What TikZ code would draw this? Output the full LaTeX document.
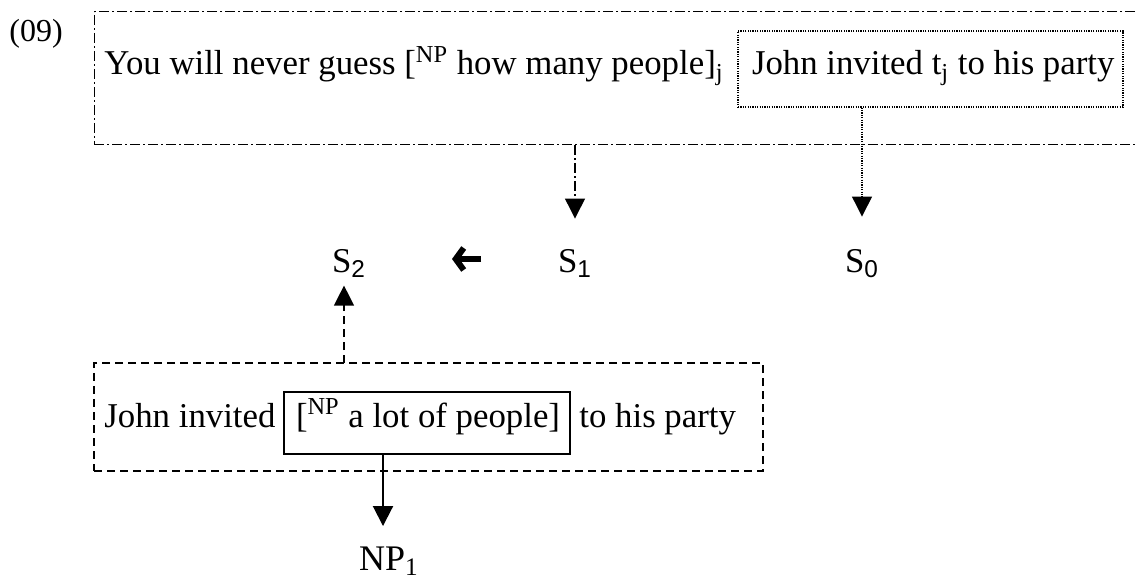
\documentclass[tikz,border=0pt]{standalone}
\usepackage{fontspec}
\setmainfont{Liberation Serif}
\newfontfamily\helvfnt{Liberation Sans}
\newfontfamily\timesfnt{Liberation Serif}
\usetikzlibrary{arrows.meta}
\begin{document}
\begin{tikzpicture}[x=0.5pt,y=-0.5pt,
  every node/.style={inner sep=0pt, font=\fontsize{17.4}{20}\selectfont},
  dashdotbox/.style={draw, line width=0.5pt, dash pattern=on 5pt off 1.5pt on 1pt off 1.5pt},
  dotbox/.style={draw, line width=0.6pt, dash pattern=on 0.6pt off 0.6pt},
  dashbox/.style={draw, line width=0.6pt, dash pattern=on 4pt off 2.5pt},
  solidbox/.style={draw, line width=1pt},
  tip/.style={-{Triangle[width=10pt,length=10pt]}},
  dotarrow/.style={tip, line width=0.6pt, dash pattern=on 0.6pt off 0.6pt},
  dashdotarrow/.style={tip, line width=0.6pt, dash pattern=on 5pt off 1.5pt on 1pt off 1.5pt},
  dasharrow/.style={tip, line width=0.6pt, dash pattern=on 4pt off 2.5pt},
  solidarrow/.style={tip, line width=1pt},
  boldarrow/.style={line width=3pt, -{Straight Barb[length=4pt,width=11pt,line width=3pt]}}
]
\useasboundingbox (0,0) rectangle (1138,582);

\node[anchor=base west, font=\fontsize{16}{19}\selectfont] (ex) at (9,42) {(09)};

% top frame
\node[dashdotbox, minimum width=533pt, minimum height=66.5pt] (outer) at (627,78.5) {};
\node[anchor=base west] (toptext) at (104,75) {You will never guess [\textsuperscript{NP} how many people]\textsubscript{j}};
\node[dotbox, anchor=base, text height=22pt, text depth=16pt] (emb) at (930.5,75)
  {\makebox[192.5pt][l]{\hspace{7pt}John invited t\textsubscript{j} to his party}};

% S row
\node[anchor=base] (S0) at (862,272) {S\textsubscript{\helvfnt 0}};
\node[anchor=base] (S1) at (575,272) {S\textsubscript{\helvfnt 1}};
\node[anchor=base] (S2) at (349,272) {S\textsubscript{\helvfnt 2}};

\draw[dotarrow, shorten >=16pt] (emb.south -| S0) -- (S0.north);
\draw[dashdotarrow, shorten >=15pt] (outer.south -| S1) -- (S1.north);

\coordinate (barbA) at (481,259);
\coordinate (barbB) at (452,259);
\draw[boldarrow] (barbA) -- (barbB);

% bottom frame
\node[dashbox, minimum width=334.5pt, minimum height=54pt] (lower) at (428.5,417) {};
\node[anchor=base west] (jinv) at (104,427) {John invited};
\node[solidbox, anchor=base, text height=17.5pt, text depth=13.5pt] (np) at (427,427)
  {\makebox[143pt][l]{\hspace{6pt}[\textsuperscript{NP} a lot of people]}};
\node[anchor=base west] (party) at (579,427) {to his party};

\coordinate (s2foot) at (344,363);
\draw[dasharrow, shorten >=4pt] (s2foot) -- (s2foot |- S2.south);

\node[anchor=base, font=\fontsize{18}{20}\timesfnt] (NP1) at (389,570) {NP\textsubscript{1}};
\coordinate (npfoot) at (383,454);
\draw[solidarrow, shorten >=10pt] (npfoot) -- (npfoot |- NP1.north);
\end{tikzpicture}
\end{document}
